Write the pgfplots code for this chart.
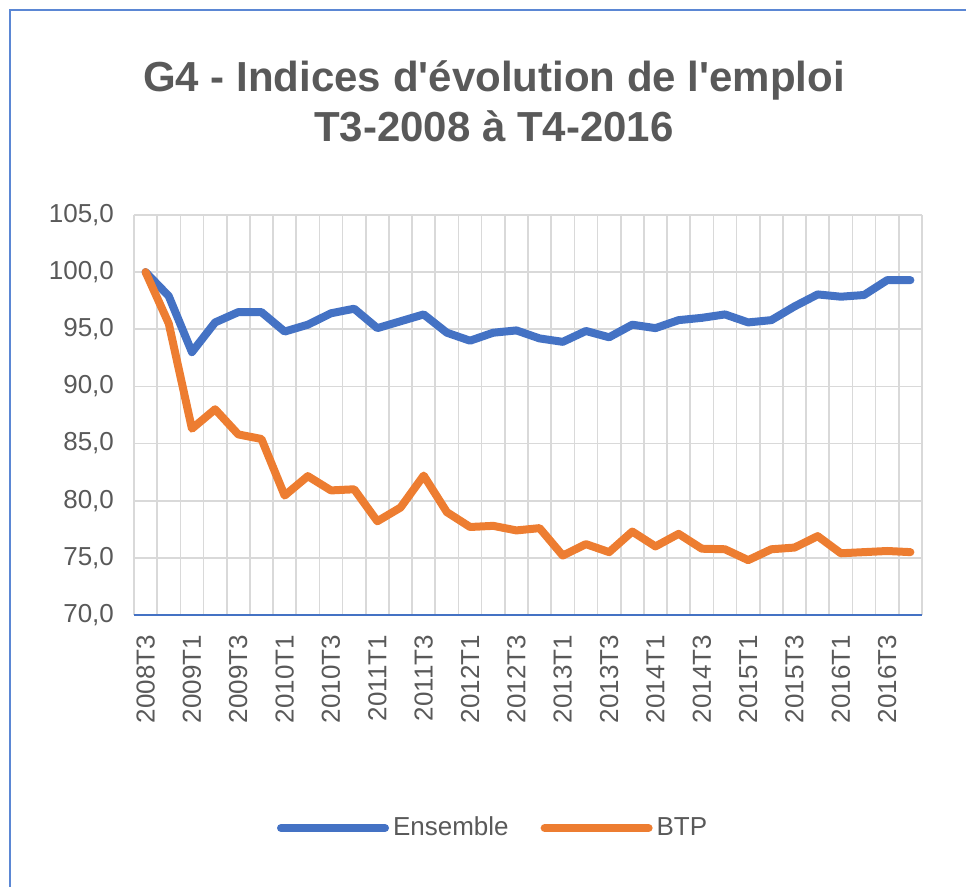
\documentclass[border=0pt]{standalone}
\usepackage{fontspec}
\setmainfont{Liberation Sans}
\usepackage{pgfplots}
\pgfplotsset{compat=1.18}

\definecolor{ensblue}{HTML}{4472C4}
\definecolor{btporange}{HTML}{ED7D31}
\definecolor{txtgray}{HTML}{595959}
\definecolor{gridgray}{HTML}{D9D9D9}
\definecolor{framblue}{HTML}{5B87D4}

\begin{document}
\begin{tikzpicture}
% page size matches the 966x887 reference (1px = 0.5pt)
\path[use as bounding box] (-67pt,-136pt) rectangle (416pt,307.5pt);
\draw[framblue, line width=1.3pt] (-62pt,-140pt) -- (-62pt,302.5pt) -- (420pt,302.5pt);

\begin{axis}[
    width=394pt, height=200pt, scale only axis,
    xmin=-0.5, xmax=33.5,
    ymin=70, ymax=105,
    ytick={70,75,...,105},
    xtick={0,2,...,32},
    xticklabels={2008T3,2009T1,2009T3,2010T1,2010T3,2011T1,2011T3,2012T1,2012T3,
                 2013T1,2013T3,2014T1,2014T3,2015T1,2015T3,2016T1,2016T3},
    minor xtick={-0.5,0.5,...,33.5},
    xminorgrids, ymajorgrids, xmajorgrids=false,
    major grid style={gridgray, line width=0.8pt},
    minor grid style={gridgray, line width=0.8pt},
    major tick length=0pt, minor tick length=0pt,
    axis x line*=bottom, axis y line*=left,
    x axis line style={-, draw=ensblue, line width=1.2pt},
    y axis line style={-, draw=none},
    tick label style={font=\fontsize{13}{15}\selectfont, text=txtgray},
    xticklabel style={rotate=90, anchor=east},
    xticklabel shift=6.5pt,
    yticklabel shift=6.5pt,
    /pgf/number format/.cd, fixed, fixed zerofill, precision=1, use comma,
        assume math mode=true,
    /pgfplots/.cd,
    legend columns=2,
    legend cell align=left,
    legend style={draw=none, fill=none, at={(0.457,-0.5325)}, anchor=center,
        font=\fontsize{13}{15}\selectfont, text=txtgray,
        /tikz/every even column/.append style={column sep=14pt}},
    legend image code/.code={\draw[#1] (0pt,0pt) -- (52pt,0pt);},
]
\addplot[ensblue, line width=4pt, line join=round, line cap=round] coordinates {
(0,100) (1,97.9) (2,93.0) (3,95.6) (4,96.5) (5,96.5) (6,94.8) (7,95.4)
(8,96.4) (9,96.8) (10,95.1) (11,95.7) (12,96.3) (13,94.7) (14,94.0) (15,94.7)
(16,94.9) (17,94.2) (18,93.9) (19,94.85) (20,94.3) (21,95.4) (22,95.1) (23,95.8)
(24,96.0) (25,96.3) (26,95.6) (27,95.8) (28,97.0) (29,98.05) (30,97.85) (31,98.0)
(32,99.3) (33,99.3)
};
\addlegendentry{Ensemble}
\addplot[btporange, line width=4pt, line join=round, line cap=round] coordinates {
(0,100) (1,95.5) (2,86.3) (3,88.0) (4,85.8) (5,85.4) (6,80.45) (7,82.15)
(8,80.9) (9,81.0) (10,78.2) (11,79.4) (12,82.2) (13,79.0) (14,77.7) (15,77.8)
(16,77.4) (17,77.6) (18,75.2) (19,76.2) (20,75.5) (21,77.3) (22,76.0) (23,77.1)
(24,75.8) (25,75.75) (26,74.8) (27,75.75) (28,75.9) (29,76.9) (30,75.4) (31,75.5)
(32,75.6) (33,75.5)
};
\addlegendentry{BTP}
\end{axis}

\node[anchor=base, text=txtgray, font=\bfseries\fontsize{21}{25}\selectfont]
    at (180pt,261.5pt) {G4 - Indices d\textquotesingle évolution de l\textquotesingle emploi};
\node[anchor=base, text=txtgray, font=\bfseries\fontsize{21}{25}\selectfont]
    at (180pt,236.5pt) {T3-2008 à T4-2016};
\end{tikzpicture}
\end{document}
